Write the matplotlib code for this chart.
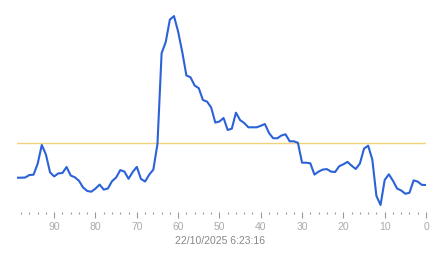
import numpy as np
import matplotlib
matplotlib.use('Agg')
import matplotlib.pyplot as plt
from matplotlib.ticker import MultipleLocator

# seconds ago (x) and the measured level (arbitrary units, y axis unlabeled)
seconds_ago = list(range(99, -1, -1))
level = [32.3, 32.3, 32.5, 35.0, 35.3, 46.2, 65.0, 55.5, 37.6, 33.6,
         36.6, 37.0, 43.0, 34.5, 32.7, 29.2, 22.5, 19.0, 18.3, 21.4,
         25.4, 20.4, 21.5, 28.8, 32.5, 39.9, 38.4, 31.2, 38.0, 43.1,
         31.1, 28.5, 35.3, 40.4, 66.0, 156.7, 168.0, 190.4, 193.9, 178.4,
         158.0, 134.6, 132.7, 124.5, 121.8, 110.0, 108.4, 102.5, 87.4, 88.5,
         92.0, 80.0, 81.4, 97.3, 89.9, 87.0, 82.7, 82.7, 82.7, 84.2,
         86.0, 77.0, 71.8, 71.7, 74.5, 75.7, 68.7, 68.7, 67.2, 47.3,
         47.3, 46.7, 35.4, 38.4, 40.4, 40.9, 38.4, 38.0, 43.8, 45.7,
         48.1, 44.3, 41.0, 46.5, 61.4, 64.3, 50.5, 14.0, 5.0, 30.0,
         35.7, 29.3, 21.5, 19.5, 16.2, 17.3, 29.6, 28.4, 25.1, 25.0]
threshold = 67.0
timestamp = '22/10/2025 6:23:16'

plt.rcParams['font.family'] = ['Liberation Sans', 'DejaVu Sans']

fig = plt.figure(figsize=(4.43, 2.58), dpi=100)
ax = fig.add_axes([17 / 443, 46 / 258, 409 / 443, 204 / 258])

# threshold line
ax.axhline(threshold, color='#f2d27a', linewidth=1.0, zorder=1)
# level trace
ax.plot(seconds_ago, level, color='#2b62d8', linewidth=1.5,
        solid_joinstyle='round', zorder=2)

ax.set_xlim(99, 0)
ax.set_ylim(-2, 202)
for side in ax.spines.values():
    side.set_visible(False)
ax.set_yticks([])
ax.xaxis.set_major_locator(MultipleLocator(10))
ax.xaxis.set_minor_locator(MultipleLocator(2))
ax.tick_params(axis='x', which='major', length=4, width=0.8, color='#999999',
               labelcolor='#aaaaaa', labelsize=7.5, pad=3)
ax.tick_params(axis='x', which='minor', length=1.5, width=0.8, color='#999999')

fig.text(220 / 443, 1 - 241 / 258, timestamp, ha='center', va='center',
         fontsize=7.5, color='#888888')

fig.savefig('out.png', dpi=100)
